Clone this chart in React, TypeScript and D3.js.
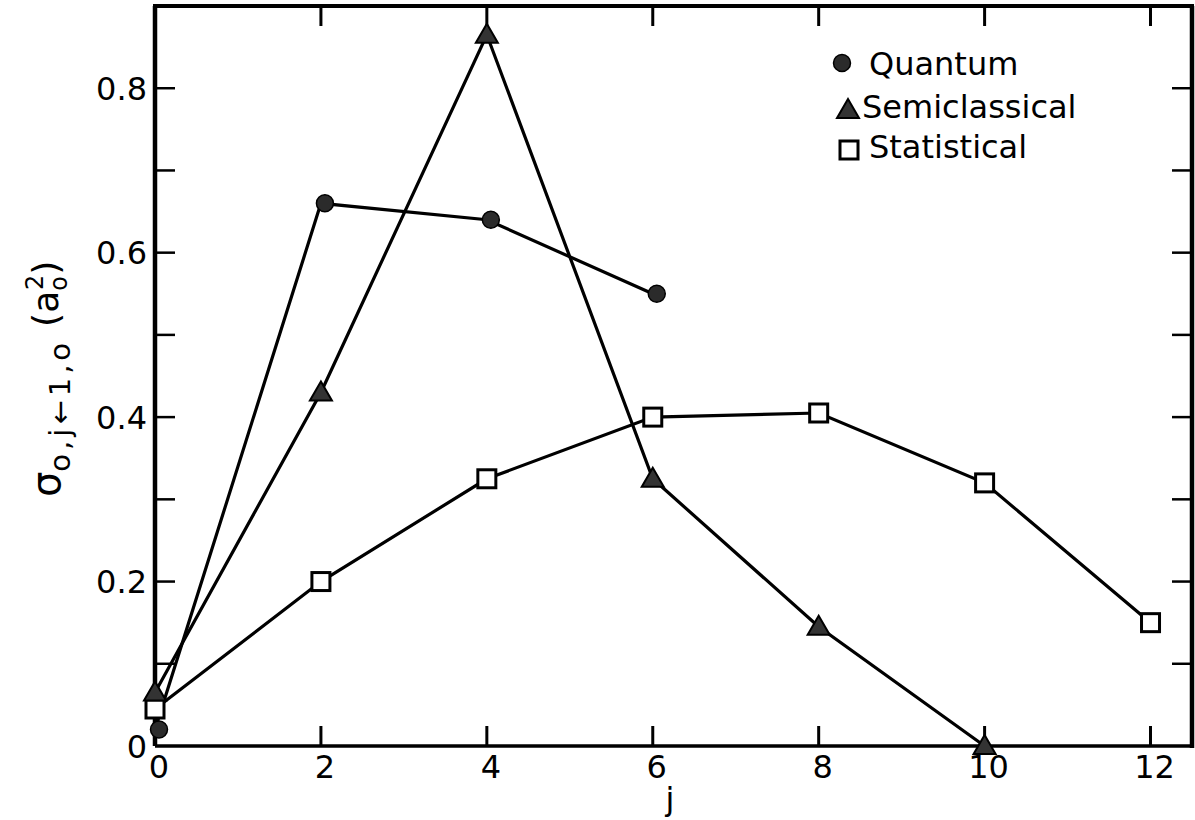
import React from "react";
import * as d3 from "d3";

// Cross sections sigma(0,j <- 1,0) in a0^2 versus final rotational level j
const quantumJ = [0, 2, 4, 6];
const quantumSigma = [0.02, 0.66, 0.64, 0.55];

const semiJ = [0, 2, 4, 6, 8, 10];
const semiSigma = [0.065, 0.43, 0.865, 0.325, 0.145, 0.0];

const statJ = [0, 2, 4, 6, 8, 10, 12];
const statSigma = [0.045, 0.2, 0.325, 0.4, 0.405, 0.32, 0.15];

const xTicks = [0, 2, 4, 6, 8, 10, 12];
const yLabelTicks = [0, 0.2, 0.4, 0.6, 0.8];
const yMinorTicks = [0.1, 0.2, 0.3, 0.4, 0.5, 0.6, 0.7, 0.8];

const legendItems = ["Quantum", "Semiclassical", "Statistical"];

const W = 1195;
const H = 820;
const left = 155;
const right = 1192;
const top = 6;
const bottom = 746;

const FONT = "'DejaVu Sans', sans-serif";

export default function App() {
  const x = d3.scaleLinear().domain([0, 12.5]).range([left, right]);
  const y = d3.scaleLinear().domain([0, 0.9]).range([bottom, top]);

  const line = d3
    .line<[number, number]>()
    .x((d) => x(d[0]))
    .y((d) => y(d[1]));

  const quantum = quantumJ.map((j, i) => [j, quantumSigma[i]] as [number, number]);
  const semi = semiJ.map((j, i) => [j, semiSigma[i]] as [number, number]);
  const stat = statJ.map((j, i) => [j, statSigma[i]] as [number, number]);

  const tri = (cx: number, cy: number, s = 22) => {
    const h = s * 0.86;
    return `M${cx},${cy - h * 0.58}L${cx + s / 2},${cy + h * 0.42}L${cx - s / 2},${cy + h * 0.42}Z`;
  };

  const circleMark = (cx: number, cy: number, key: string) => (
    <circle key={key} cx={cx} cy={cy} r={8.5} fill="#2b2b2b" stroke="#000" strokeWidth={1.5} />
  );
  const triMark = (cx: number, cy: number, key: string) => (
    <path key={key} d={tri(cx, cy)} fill="#333" stroke="#000" strokeWidth={2} strokeLinejoin="miter" />
  );
  const squareMark = (cx: number, cy: number, key: string) => (
    <rect key={key} x={cx - 9} y={cy - 9} width={18} height={18} fill="#fff" stroke="#000" strokeWidth={3} />
  );

  const tickLen = 20;

  return (
    <svg
      width={W}
      height={H}
      style={{ position: "absolute", left: 0, top: 0, background: "#fff" }}
      fontFamily={FONT}
    >
      <rect x={0} y={0} width={W} height={H} fill="#fff" />

      {/* frame */}
      <line x1={left} y1={top} x2={left} y2={bottom} stroke="#000" strokeWidth={4.5} />
      <line x1={left} y1={bottom} x2={right} y2={bottom} stroke="#000" strokeWidth={3.5} />
      <line x1={left - 2} y1={top} x2={right + 2} y2={top} stroke="#000" strokeWidth={4} />
      <line x1={right} y1={top} x2={right} y2={bottom + 2} stroke="#000" strokeWidth={4.5} />

      {/* x ticks, bottom and top, pointing inward */}
      {xTicks.filter((t) => t > 0).map((t) => (
        <g key={`xt${t}`}>
          <line x1={x(t)} x2={x(t)} y1={bottom} y2={bottom - tickLen} stroke="#000" strokeWidth={3} />
          <line x1={x(t)} x2={x(t)} y1={top} y2={top + tickLen} stroke="#000" strokeWidth={3} />
        </g>
      ))}
      {/* y ticks, left and right, pointing inward */}
      {yMinorTicks.map((t) => (
        <g key={`yt${t}`}>
          <line x1={left} x2={left + tickLen} y1={y(t)} y2={y(t)} stroke="#000" strokeWidth={2.5} />
          <line x1={right} x2={right - tickLen} y1={y(t)} y2={y(t)} stroke="#000" strokeWidth={2.5} />
        </g>
      ))}

      {/* tick labels */}
      {xTicks.map((t) => (
        <text key={`xl${t}`} x={x(t) + 4} y={778} fontSize={32} textAnchor="middle" fill="#000">
          {t}
        </text>
      ))}
      {yLabelTicks.map((t) => (
        <text
          key={`yl${t}`}
          x={147}
          y={y(t)}
          dy="0.36em"
          fontSize={32}
          textAnchor="end"
          fill="#000"
        >
          {t === 0 ? "0" : t.toFixed(1)}
        </text>
      ))}

      {/* axis titles */}
      <text x={670} y={810} fontSize={32} textAnchor="middle" fill="#000">
        j
      </text>
      <text transform="translate(60,497) rotate(-90)" fill="#000">
        <tspan fontSize={40}>σ</tspan>
        <tspan fontSize={29} dy={10} letterSpacing={4}>
          o,j←1,o
        </tspan>
        <tspan fontSize={36} dy={-12} dx={12}>
          (a
        </tspan>
        <tspan fontSize={24} dy={9}>
          o
        </tspan>
        <tspan fontSize={24} dx={-14} dy={-24}>
          2
        </tspan>
        <tspan fontSize={36} dy={15}>
          )
        </tspan>
      </text>

      {/* series lines */}
      <path d={line(stat) || ""} fill="none" stroke="#000" strokeWidth={3.2} />
      <path d={line(semi) || ""} fill="none" stroke="#000" strokeWidth={3.2} />
      <path d={line(quantum) || ""} fill="none" stroke="#000" strokeWidth={3.2} />

      {/* markers */}
      {stat.map((d, i) => squareMark(x(d[0]), y(d[1]), `s${i}`))}
      {semi.map((d, i) => triMark(x(d[0]), y(d[1]), `t${i}`))}
      {quantum.map((d, i) => circleMark(x(d[0]) + 4, y(d[1]), `c${i}`))}

      {/* legend */}
      {circleMark(842, 63, "lc")}
      {triMark(848, 110, "lt")}
      {squareMark(849, 150, "ls")}
      {legendItems.map((name, i) => (
        <text key={name} x={i === 1 ? 862 : 869} y={[75, 118, 158][i]} fontSize={32} fill="#000">
          {name}
        </text>
      ))}
    </svg>
  );
}
